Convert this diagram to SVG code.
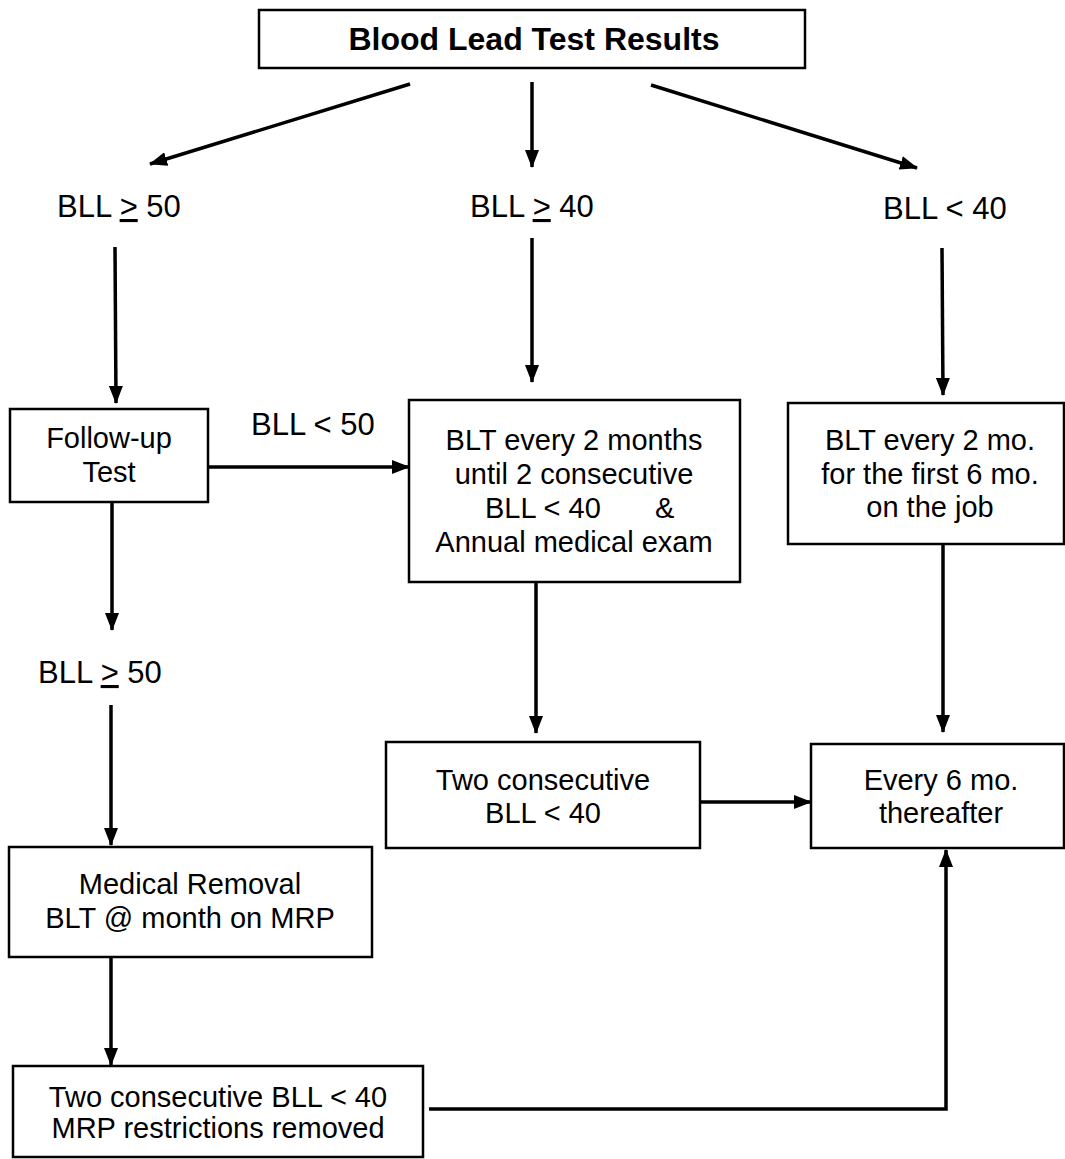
<svg xmlns="http://www.w3.org/2000/svg" width="1065" height="1159" viewBox="0 0 1065 1159">
<style>
.box{fill:#fff;stroke:#000;stroke-width:2.5}
.t{font-family:"Liberation Sans",Arial,sans-serif;font-size:29px;fill:#000;text-anchor:middle}
.lbl{font-family:"Liberation Sans",Arial,sans-serif;font-size:31px;fill:#000}
.title{font-family:"Liberation Sans",Arial,sans-serif;font-size:32px;font-weight:bold;fill:#000;text-anchor:middle}
.c{fill:none;stroke:#000;stroke-width:3.5}
.ca{fill:none;stroke:#000;stroke-width:3.5;marker-end:url(#ah)}
</style>
<defs>
<marker id="ah" markerUnits="userSpaceOnUse" markerWidth="18" markerHeight="14" refX="17" refY="7" orient="auto">
<path d="M0,0 L18,7 L0,14 z" fill="#000"/>
</marker>
</defs>
<rect width="1065" height="1159" fill="#fff"/>
<g id="connectors">
<line class="ca" x1="410" y1="84" x2="150" y2="164"/>
<line class="ca" x1="532" y1="82" x2="532" y2="167"/>
<line class="ca" x1="651" y1="85" x2="917" y2="168"/>
<line class="ca" x1="115" y1="247" x2="116" y2="403"/>
<line class="ca" x1="532" y1="238" x2="532" y2="382"/>
<line class="ca" x1="942" y1="248" x2="943" y2="395"/>
<line class="ca" x1="208" y1="467" x2="409" y2="467"/>
<line class="ca" x1="112" y1="502" x2="112" y2="630"/>
<line class="ca" x1="111" y1="705" x2="111" y2="845"/>
<line class="ca" x1="536" y1="582" x2="536" y2="733"/>
<line class="ca" x1="943" y1="544" x2="943" y2="732"/>
<line class="ca" x1="700" y1="802" x2="811" y2="802"/>
<line class="ca" x1="111" y1="957" x2="111" y2="1065"/>
<polyline class="ca" points="429,1109 946,1109 946,850"/>
</g>
<g id="title">
<rect class="box" x="259" y="10" width="546" height="58"/>
<text class="title" x="534" y="50">Blood Lead Test Results</text>
</g>
<g id="lbl-bll-ge50">
<text class="lbl" x="57" y="217">BLL <tspan text-decoration="underline">&gt;</tspan> 50</text>
</g>
<g id="lbl-bll-ge40">
<text class="lbl" x="470" y="217">BLL <tspan text-decoration="underline">&gt;</tspan> 40</text>
</g>
<g id="lbl-bll-lt40">
<text class="lbl" x="883" y="219">BLL &lt; 40</text>
</g>
<g id="followup">
<rect class="box" x="10" y="409" width="198" height="93"/>
<text class="t" x="109" y="448">Follow-up</text>
<text class="t" x="109" y="482">Test</text>
</g>
<g id="lbl-bll-lt50">
<text class="lbl" x="251" y="435">BLL &lt; 50</text>
</g>
<g id="blt-2months">
<rect class="box" x="409" y="400" width="331" height="182"/>
<text class="t" x="574" y="450">BLT every 2 months</text>
<text class="t" x="574" y="484">until 2 consecutive</text>
<text class="t" x="485" y="518" style="text-anchor:start">BLL &lt; 40<tspan x="655">&amp;</tspan></text>
<text class="t" x="574" y="552">Annual medical exam</text>
</g>
<g id="blt-2mo">
<rect class="box" x="788" y="403" width="276" height="141"/>
<text class="t" x="930" y="450">BLT every 2 mo.</text>
<text class="t" x="930" y="484">for the first 6 mo.</text>
<text class="t" x="930" y="517">on the job</text>
</g>
<g id="lbl-bll-ge50b">
<text class="lbl" x="38" y="683">BLL <tspan text-decoration="underline">&gt;</tspan> 50</text>
</g>
<g id="two-consecutive">
<rect class="box" x="386" y="742" width="314" height="106"/>
<text class="t" x="543" y="790">Two consecutive</text>
<text class="t" x="543" y="823">BLL &lt; 40</text>
</g>
<g id="every6">
<rect class="box" x="811" y="744" width="253" height="104"/>
<text class="t" x="941" y="790">Every 6 mo.</text>
<text class="t" x="941" y="823">thereafter</text>
</g>
<g id="medical-removal">
<rect class="box" x="9" y="847" width="363" height="110"/>
<text class="t" x="190" y="894">Medical Removal</text>
<text class="t" x="190" y="928">BLT @ month on MRP</text>
</g>
<g id="mrp-removed">
<rect class="box" x="13" y="1066" width="410" height="91"/>
<text class="t" x="218" y="1107">Two consecutive BLL &lt; 40</text>
<text class="t" x="218" y="1138">MRP restrictions removed</text>
</g>
</svg>
